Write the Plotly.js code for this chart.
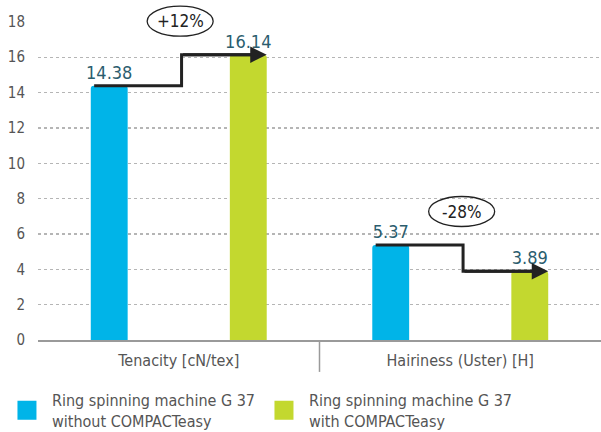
<!DOCTYPE html>
<html>
<head>
<meta charset="utf-8">
<script src="https://cdn.plot.ly/plotly-3.0.1.min.js"></script>
<style>html,body{margin:0;padding:0;background:#fff;}#chart{width:601px;height:432px;}</style>
</head>
<body>
<div id="chart"></div>
<script>
// ---- data ----
var categories = ['Tenacity [cN/tex]', 'Hairiness (Uster) [H]'];
var withoutCompact = [14.38, 5.37];
var withCompact = [16.14, 3.89];
var changeLabels = ['+12%', '-28%'];
var seriesNames = ['Ring spinning machine G 37<br>without COMPACTeasy',
                   'Ring spinning machine G 37<br>with COMPACTeasy'];
var yTickVals = [0, 2, 4, 6, 8, 10, 12, 14, 16, 18];

// ---- style ----
var FONT = '"DejaVu Sans Condensed", "Liberation Sans Narrow", Roboto, sans-serif';
var BLUE = '#00b4e8', GREEN = '#c3d82f', TEAL = '#2b5d6e', DARK = '#222222';
var barW = 0.131, blueOff = -0.3125, greenOff = 0.1815;
var yMax = 18.05;
var idx = categories.map(function(_, i){ return i; });

var traces = [
  {type:'bar', x: idx, y: withoutCompact, width: barW, offset: blueOff,
   marker:{color: BLUE}, showlegend:false, cliponaxis:false,
   text: withoutCompact.map(String), textposition:'outside', constraintext:'none',
   textfont:{family:FONT, size:18, color:TEAL}, hoverinfo:'none'},
  {type:'bar', x: idx, y: withCompact, width: barW, offset: greenOff,
   marker:{color: GREEN}, showlegend:false, cliponaxis:false,
   text: withCompact.map(String), textposition:'outside', constraintext:'none',
   textfont:{family:FONT, size:18, color:TEAL}, hoverinfo:'none'},
  {type:'scatter', mode:'markers', x:[null], y:[null], name: seriesNames[0], legend:'legend',
   marker:{symbol:'square', size:16, color:BLUE, line:{color:BLUE, width:3}}},
  {type:'scatter', mode:'markers', x:[null], y:[null], name: seriesNames[1], legend:'legend2',
   marker:{symbol:'square', size:16, color:GREEN, line:{color:GREEN, width:3}}}
];

var annotations = [], shapes = [];
idx.forEach(function(i){
  var a = withoutCompact[i], b = withCompact[i];
  var xs = i + blueOff + 0.012, xm = i + 0.01, xe = i + greenOff + barW;
  traces.push({type:'scatter', mode:'lines', x:[xs, xm, xm, xe - 0.05], y:[a, a, b, b],
    line:{color:DARK, width:3}, showlegend:false, hoverinfo:'none', cliponaxis:false});
  annotations.push({x: xe, y: b, ax: xm, ay: b, xref:'x', yref:'y', axref:'x', ayref:'y',
    showarrow:true, arrowhead:2, arrowsize:1.1, arrowwidth:3, arrowcolor:DARK, text:''});
  var ey = Math.max(a, b) + 1.9;
  shapes.push({type:'circle', xref:'x', yref:'paper', xsizemode:'pixel', ysizemode:'pixel',
    xanchor: i + 0.005, yanchor: ey / yMax, x0:-33, x1:33, y0:-15, y1:15,
    line:{color:DARK, width:1.3}, fillcolor:'rgba(0,0,0,0)'});
  annotations.push({x: i + 0.005, y: ey, xref:'x', yref:'y', text: changeLabels[i],
    showarrow:false, font:{family:FONT, size:17, color:DARK}});
});
shapes.push({type:'line', xref:'x', yref:'paper', x0:0.5, x1:0.5, y0:0, y1:-0.1,
  line:{color:'#9a9a9a', width:1.5}});

var legendBase = {orientation:'h', xanchor:'left', y:-0.135, yanchor:'top',
  itemsizing:'trace', itemwidth:40,
  font:{family:FONT, size:16, color:'#555'}, bgcolor:'rgba(0,0,0,0)', valign:'middle'};

var layout = {
  width:601, height:432,
  margin:{l:38, r:0, t:21, b:92, autoexpand:false},
  paper_bgcolor:'#fff', plot_bgcolor:'#fff',
  font:{family:FONT, size:15, color:'#555'},
  barmode:'overlay', barcornerradius:3,
  xaxis:{range:[-0.5, 1.5], tickvals: idx, ticktext: categories, showgrid:false,
    zeroline:false, showline:true, linecolor:'#9a9a9a', linewidth:1.5, ticks:'',
    ticklabelstandoff:5,
    tickfont:{family:FONT, size:16, color:'#555'}, fixedrange:true},
  yaxis:{range:[0, yMax], tickvals: yTickVals, showgrid:true, gridcolor:'#b5b5b5',
    griddash:'dot', gridwidth:1.2, zeroline:false, showline:false, ticks:'',
    ticklabelstandoff:12, tickfont:{family:FONT, size:15, color:'#555'}, fixedrange:true},
  showlegend:true,
  legend: Object.assign({}, legendBase, {x:-0.064}),
  legend2: Object.assign({}, legendBase, {x:0.3925}),
  annotations: annotations, shapes: shapes
};

Plotly.newPlot('chart', traces, layout, {displayModeBar:false, staticPlot:true});
</script>
</body>
</html>
